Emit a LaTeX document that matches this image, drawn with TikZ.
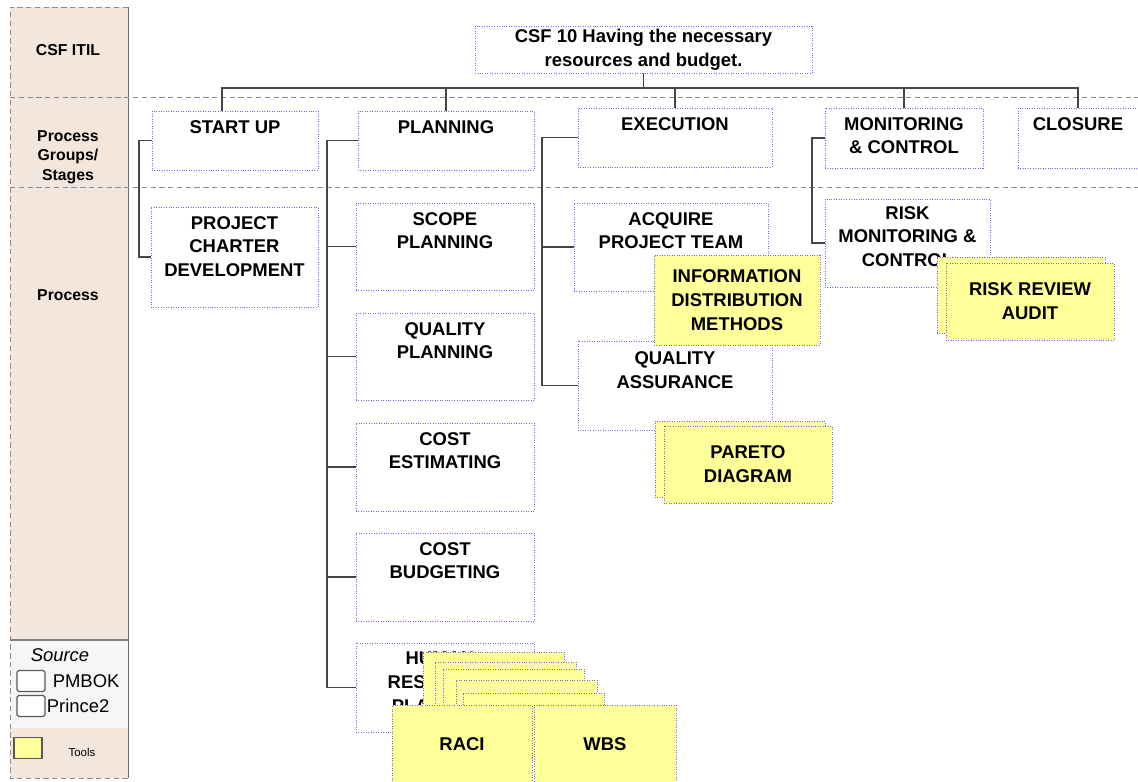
\documentclass[tikz,border=0pt]{standalone}
\usepackage{fontspec}
\setmainfont{Liberation Sans}
\usetikzlibrary{positioning}
\definecolor{tanbg}{RGB}{242,230,221}
\definecolor{legendbg}{RGB}{246,246,246}
\definecolor{toolyellow}{RGB}{255,255,153}
\definecolor{boxblue}{RGB}{105,105,250}
\definecolor{linegray}{RGB}{70,70,70}
\definecolor{rowgray}{RGB}{140,140,140}
\newcommand{\boxfont}{\fontsize{10.5}{13.5}\selectfont\bfseries}
\newcommand{\colfont}{\fontsize{9}{11}\selectfont\bfseries}
\newcommand{\legendfont}{\fontsize{10.5}{12}\selectfont}

\begin{document}
\begin{tikzpicture}[
                          x=0.02cm, y=-0.02cm,
                          box/.style={draw=boxblue, densely dotted, fill=white,
                            inner sep=0pt, outer sep=0pt, anchor=north west},
                          tool/.style={box, fill=toolyellow, align=center, font=\boxfont},
                          boxtext/.style={anchor=north, align=center, font=\boxfont, inner sep=5pt},
                          legbox/.style={draw=gray!70!black, line width=0.7pt, fill=white, rounded corners=1pt,
                            minimum width=0.56cm, minimum height=0.42cm, inner sep=0pt},
                          conn/.style={draw=linegray, line width=0.8pt},
                          hv/.style={to path={-| (\tikztotarget)}},
                          branch/.style={to path={-- ++(-#1,0) |- (\tikztotarget)}}]
                      \useasboundingbox (0,0) rectangle (1138,781);
                      % left column
                      \fill[tanbg] (10,7) rectangle (128,778);
                      \fill[legendbg] (10,640) rectangle (128,728);
                      \draw[rowgray, densely dashed] (128,7) -- (10,7) -- (10,778) -- (128,778);
                      \draw[linegray!80] (128,7) -- (128,778);
                      \draw[gray, line width=1pt] (10,640) -- (128,640);
                      \draw[rowgray, densely dashed] (10,97) -- (1138,97);
                      \draw[rowgray, densely dashed] (10,187) -- (1138,187);
                      \node[font=\colfont] (itil) at (68,50) {CSF ITIL};
                      \node[font=\colfont, align=center] (stages) at (68,157) {Process\\Groups/\\Stages};
                      \node[font=\colfont] (process) at (68,295) {Process};
                      \node[font=\legendfont\itshape] (source) at (60,655) {Source};
                      \node[legbox] (pmbokbox) at (31,681) {};
                      \node[font=\legendfont, right=0.02cm of pmbokbox] (pmbok) {PMBOK};
                      \node[legbox] (princebox) at (31,706) {};
                      \node[font=\legendfont, right=0pt of princebox, inner sep=0.5pt] (prince) {Prince2};
                      \node[legbox, fill=toolyellow, rounded corners=0pt] (toolbox) at (28,748) {};
                      \node[font=\fontsize{6.5}{8}\selectfont] (tools) at (82,752) {Tools};
                      % critical success factor
                      \node[box, anchor=center, align=center, font=\boxfont,
                        minimum width=6.74cm, minimum height=0.94cm] (csf) at (643.5,49.5)
                        {CSF 10 Having the necessary\\resources and budget.};
                      % stages
                      \node[box, minimum width=3.32cm, minimum height=1.18cm,
                        label={[boxtext]north:START UP}] (startup) at (152,111) {};
                      \node[box, minimum width=3.52cm, minimum height=1.18cm,
                        label={[boxtext]north:PLANNING}] (planning) at (358,111) {};
                      \node[box, minimum width=3.88cm, minimum height=1.18cm,
                        label={[boxtext]north:EXECUTION}] (execution) at (578,108) {};
                      \node[box, minimum width=3.16cm, minimum height=1.2cm,
                        label={[boxtext]north:MONITORING\\\& CONTROL}] (monitor) at (825,108) {};
                      \node[box, minimum width=2.4cm, minimum height=1.2cm,
                        label={[boxtext]north:CLOSURE}] (closure) at (1018,108) {};
                      % processes
                      \node[box, minimum width=3.34cm, minimum height=2cm,
                        label={[boxtext]north:PROJECT\\CHARTER\\DEVELOPMENT}] (charter) at (151,207) {};
                      \node[box, minimum width=3.56cm, minimum height=1.74cm,
                        label={[boxtext]north:SCOPE\\PLANNING}] (scope) at (356,203) {};
                      \node[box, minimum width=3.56cm, minimum height=1.74cm,
                        label={[boxtext]north:QUALITY\\PLANNING}] (qplan) at (356,313) {};
                      \node[box, minimum width=3.56cm, minimum height=1.76cm,
                        label={[boxtext]north:COST\\ESTIMATING}] (costest) at (356,423) {};
                      \node[box, minimum width=3.56cm, minimum height=1.76cm,
                        label={[boxtext]north:COST\\BUDGETING}] (costbud) at (356,533) {};
                      \node[box, minimum width=3.56cm, minimum height=1.78cm,
                        label={[boxtext, xshift=-0.1cm]north:HUMAN\\RESOURCE\\PLANNING}] (hrplan) at (356,643) {};
                      \node[box, minimum width=3.88cm, minimum height=1.76cm,
                        label={[boxtext]north:ACQUIRE\\PROJECT TEAM}] (acquire) at (574,203) {};
                      \node[box, minimum width=3.88cm, minimum height=1.78cm,
                        label={[boxtext, inner sep=6pt]north:QUALITY\\ASSURANCE}] (qassure) at (578,341) {};
                      \node[box, minimum width=3.3cm, minimum height=1.76cm,
                        label={[boxtext, inner sep=4pt]north:RISK\\MONITORING \&\\CONTROL}] (riskmon) at (825,199) {};
                      % connectors
                      \draw[conn] (csf.south) -- ++(0,15) coordinate (bus);
                      \path[conn]
                      (bus) edge[hv] ([xshift=-0.26cm]startup.north)
                            edge[hv] (planning.north)
                            edge[hv] (execution.north)
                            edge[hv] (monitor.north)
                            edge[hv] (closure.north)
                      (startup.west) edge[branch=13] (charter.west)
                      (planning.west) edge[branch=31] (scope.west)
                                      edge[branch=31] (qplan.west)
                                      edge[branch=31] (costest.west)
                                      edge[branch=31] (costbud.west)
                                      edge[branch=31] (hrplan.west)
                      (execution.west) edge[branch=36] (acquire.west)
                                       edge[branch=36] (qassure.west)
                      (monitor.west) edge[branch=13] (riskmon.west)
                      ;
                      % tools
                      \node[tool, minimum width=3.32cm, minimum height=1.8cm] (infodist) at (654,255)
                        {INFORMATION\\DISTRIBUTION\\METHODS};
                      \node[tool, minimum width=3.4cm, minimum height=1.52cm] (paretoback) at (655,421) {};
                      \node[tool, minimum width=3.36cm, minimum height=1.54cm] (pareto) at (664,426)
                        {PARETO\\DIAGRAM};
                      \node[tool, minimum width=3.36cm, minimum height=1.52cm] (riskback) at (937,257) {};
                      \node[tool, minimum width=3.36cm, minimum height=1.54cm] (riskaudit) at (946,263)
                        {RISK REVIEW\\AUDIT};
                      \foreach \px/\py [count=\i] in {423/652,435/662,443/669,456/680,463/693}
                        \node[tool, minimum width=2.83cm, minimum height=1.3cm] (hrtool\i) at (\px,\py) {};
                      \node[tool, minimum width=2.8cm, minimum height=1.56cm] (raci) at (392,705) {RACI};
                      \node[tool, minimum width=2.84cm, minimum height=1.56cm] (wbs) at (534,705) {WBS};
                  \end{tikzpicture}
\end{document}
